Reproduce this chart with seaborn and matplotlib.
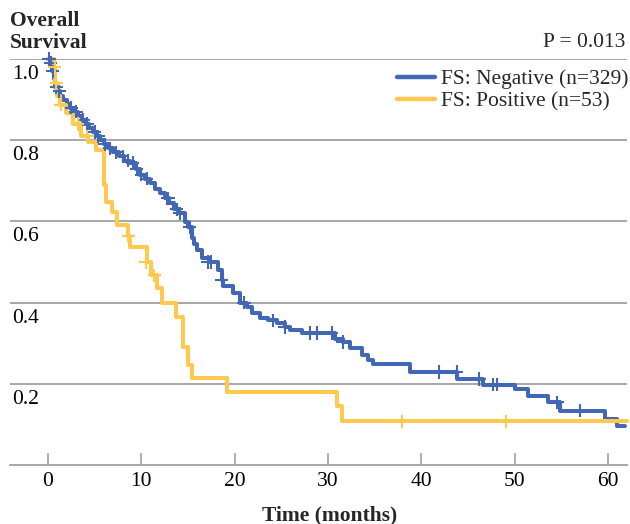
import numpy as np
import pandas as pd
import matplotlib
matplotlib.use("Agg")
import matplotlib.pyplot as plt
import seaborn as sns

# ---- data ----
neg_label = "FS: Negative (n=329)"
pos_label = "FS: Positive (n=53)"

neg_time = [0, 0.2, 0.4, 0.6, 0.8, 1.0, 1.3, 1.6, 2.0, 2.4, 2.8, 3.2, 3.6, 4.0, 4.4, 4.8,
            5.2, 5.6, 6.0, 6.4, 7.0, 7.6, 8.2, 8.8, 9.4, 9.9, 10.4, 10.9, 11.5, 12.0, 12.5,
            13.0, 13.5, 14.0, 14.7, 15.0, 15.4, 15.7, 16.0, 16.5, 17.4, 18.2, 18.6, 18.8,
            19.8, 20.6, 21.3, 21.9, 22.7, 23.6, 24.5, 25.4, 25.9, 27.2, 30.8, 31.6, 32.4,
            33.7, 34.3, 34.8, 38.8, 43.8, 46.6, 50.0, 51.4, 53.6, 54.9, 59.7, 61.0, 61.8]
neg_surv = [1.0, 0.99, 0.97, 0.95, 0.93, 0.92, 0.91, 0.90, 0.89, 0.88, 0.87, 0.86, 0.85, 0.84,
            0.83, 0.82, 0.81, 0.80, 0.79, 0.78, 0.77, 0.76, 0.75, 0.745, 0.73, 0.715, 0.705,
            0.695, 0.68, 0.67, 0.657, 0.645, 0.63, 0.62, 0.598, 0.585, 0.56, 0.545, 0.53, 0.51,
            0.50, 0.48, 0.455, 0.44, 0.423, 0.40, 0.39, 0.374, 0.362, 0.356, 0.35, 0.34, 0.332,
            0.325, 0.31, 0.303, 0.288, 0.27, 0.258, 0.248, 0.229, 0.212, 0.198, 0.186, 0.170,
            0.154, 0.134, 0.113, 0.097, 0.097]
neg_cens_time = [0.1, 0.3, 0.5, 0.9, 1.2, 2.5, 3.0, 3.8, 4.2, 5.0, 5.4, 6.1, 6.6, 7.3, 8.0,
                 8.6, 9.1, 9.5, 10.0, 10.6, 12.8, 12.9, 13.8, 14.1, 15.2, 17.1, 17.5, 18.6,
                 21.0, 24.1, 25.4, 28.1, 28.8, 30.4, 31.6, 41.9, 43.8, 46.2, 47.7, 48.1,
                 54.6, 57.0]
neg_cens_surv = [1.0, 0.99, 0.97, 0.93, 0.92, 0.88, 0.87, 0.85, 0.84, 0.82, 0.81, 0.79, 0.78,
                 0.77, 0.76, 0.75, 0.745, 0.73, 0.715, 0.705, 0.657, 0.657, 0.63, 0.62, 0.585,
                 0.50, 0.50, 0.455, 0.40, 0.356, 0.34, 0.325, 0.325, 0.325, 0.303, 0.229,
                 0.229, 0.212, 0.198, 0.198, 0.154, 0.134]

pos_time = [0, 0.6, 0.8, 1.0, 1.3, 1.9, 2.7, 3.5, 4.3, 5.1, 6.0, 6.2, 6.9, 7.4, 8.6, 8.8,
            10.6, 11.0, 11.7, 12.2, 13.7, 14.5, 15.0, 15.4, 19.2, 31.0, 31.5, 62.0]
pos_surv = [1.0, 0.98, 0.94, 0.91, 0.887, 0.867, 0.84, 0.81, 0.795, 0.776, 0.69, 0.647, 0.622,
            0.59, 0.565, 0.536, 0.50, 0.467, 0.435, 0.40, 0.364, 0.29, 0.246, 0.214, 0.18,
            0.145, 0.108, 0.108]
pos_cens_time = [0.7, 0.9, 1.4, 3.2, 4.2, 8.6, 10.5, 11.4, 37.9, 49.1]
pos_cens_surv = [0.98, 0.94, 0.887, 0.84, 0.81, 0.565, 0.50, 0.467, 0.108, 0.108]

x_ticks = [0, 10, 20, 30, 40, 50, 60]
y_ticks = [0.2, 0.4, 0.6, 0.8, 1.0]
y_tick_labels = ["0.2", "0.4", "0.6", "0.8", "1.0"]

colors = {neg_label: "#4268B5", pos_label: "#FFC84E"}

# ---- build tables ----
curves = pd.concat([
    pd.DataFrame({"t": neg_time, "s": neg_surv, "group": neg_label}),
    pd.DataFrame({"t": pos_time, "s": pos_surv, "group": pos_label}),
], ignore_index=True)
cens = pd.concat([
    pd.DataFrame({"t": neg_cens_time, "s": neg_cens_surv, "group": neg_label}),
    pd.DataFrame({"t": pos_cens_time, "s": pos_cens_surv, "group": pos_label}),
], ignore_index=True)

sns.set_theme(style="white")
plt.rcParams["font.family"] = ["Liberation Serif", "DejaVu Serif"]
FS = 15.5

fig = plt.figure(figsize=(6.3, 5.24), dpi=100)
ax = fig.add_axes([10 / 630, 1 - 465 / 524, 617 / 630, 406 / 524])

sns.lineplot(data=curves, x="t", y="s", hue="group", palette=colors,
             hue_order=[neg_label, pos_label],
             drawstyle="steps-post", estimator=None, sort=False,
             linewidth=2.9, ax=ax, legend=True, zorder=3)
for ln in ax.get_lines():
    ln.set_clip_on(False)
sns.scatterplot(data=cens, x="t", y="s", hue="group", palette=colors,
                hue_order=[neg_label, pos_label], marker="+", s=90,
                linewidth=1.5, ax=ax, legend=False, zorder=4, clip_on=False)

ax.set_xlim(-4.07, 62.05)
ax.set_ylim(0, 1.0)

# grid lines / axis
ax.set_yticks(y_ticks)
ax.set_yticklabels([])
ax.tick_params(axis="y", length=0)
ax.grid(axis="y", color="#a0a0a0", linewidth=1.3)
ax.grid(axis="x", visible=False)
for sp in ["top", "right", "left"]:
    ax.spines[sp].set_visible(False)
ax.spines["bottom"].set_color("#a0a0a0")
ax.spines["bottom"].set_linewidth(1.3)
ax.set_axisbelow(True)

ytr = ax.get_yaxis_transform()
for v, lab in zip(y_ticks, y_tick_labels):
    ax.text(0.004, v - 0.015, lab, transform=ytr, ha="left", va="top",
            fontsize=FS, color="black")

ax.set_xticks(x_ticks)
ax.set_xticklabels([str(v) for v in x_ticks], fontsize=FS)
ax.tick_params(axis="x", direction="in", length=8.5, width=1.2,
               color="#a0a0a0", pad=5, labelcolor="black", bottom=True)

ax.set_ylabel("")
ax.set_xlabel("Time (months)", fontsize=FS, fontweight="bold")
ax.xaxis.set_label_coords((330 - 10) / 617, (465 - 515) / 406)
ax.xaxis.label.set_va("center")

# legend
leg = ax.get_legend()
handles = leg.legend_handles
labels = [t.get_text() for t in leg.get_texts()]
leg.remove()
for h in handles:
    h.set_linewidth(3.2)
ax.legend(handles, labels, loc="upper left",
          bbox_to_anchor=(397 / 630, 1 - 69 / 524), bbox_transform=fig.transFigure,
          frameon=False, fontsize=FS, handlelength=1.75, handletextpad=0.3,
          labelspacing=0.1, borderpad=0, borderaxespad=0)

fig.text(10 / 630, 1 - 11 / 524, "Overall\nSurvival", ha="left", va="top",
         fontsize=FS, fontweight="bold", linespacing=1.15)
fig.text(625 / 630, 1 - 43 / 524, "P = 0.013", ha="right", va="center", fontsize=FS)

fig.savefig("out.png", dpi=100)
